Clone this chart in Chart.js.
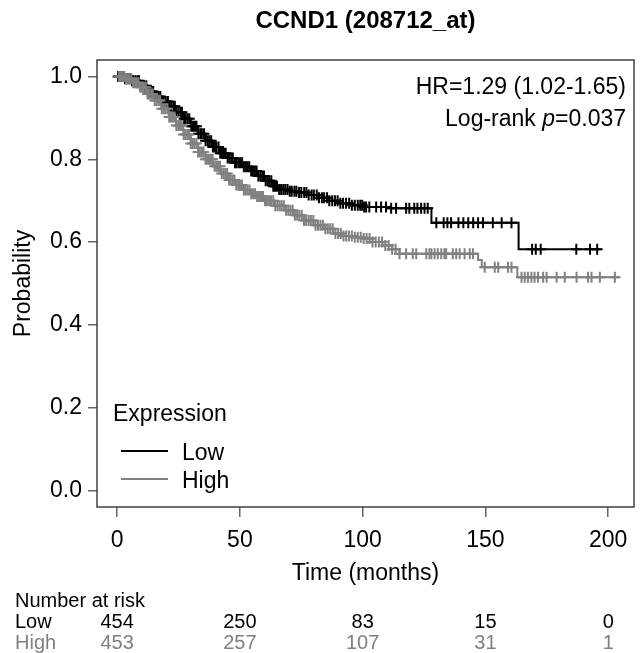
<!DOCTYPE html>
<html>
<head>
<meta charset="utf-8">
<script src="https://cdn.jsdelivr.net/npm/chart.js@4.4.1/dist/chart.umd.min.js"></script>
<style>
  html, body { margin:0; padding:0; background:#fff; }
  #wrap { width:642px; height:653px; }
</style>
</head>
<body>
<div id="wrap"><canvas id="km" width="642" height="653"></canvas></div>
<script>
// Kaplan-Meier steps: [months, probability]
const lowSteps = [
  [0,1.0],[3,0.995],[6,0.99],[9,0.978],[12,0.964],[15,0.952],[18,0.94],[21,0.928],
  [24,0.914],[27,0.898],[30,0.88],[33,0.862],[36,0.845],[39,0.83],[42,0.815],
  [45,0.803],[48,0.792],[51,0.782],[54,0.772],[57,0.76],[60,0.748],[63,0.735],
  [66,0.727],[70,0.723],[74,0.72],[78,0.714],[82,0.707],[86,0.7],[90,0.694],
  [95,0.689],[100,0.685],[110,0.682],[128,0.647],[163.5,0.583],[197,0.583]
];
const highSteps = [
  [0,1.0],[3,0.995],[6,0.985],[9,0.974],[12,0.958],[15,0.942],[18,0.922],[21,0.902],
  [24,0.882],[27,0.86],[30,0.838],[33,0.818],[36,0.8],[39,0.783],[42,0.766],
  [45,0.75],[48,0.738],[51,0.726],[54,0.717],[57,0.71],[60,0.7],[64,0.688],
  [68,0.677],[72,0.665],[76,0.652],[80,0.641],[84,0.632],[88,0.621],[92,0.615],
  [96,0.612],[100,0.609],[104,0.6],[108,0.592],[112,0.583],[115,0.572],
  [147,0.557],[148.5,0.539],[163,0.515],[204.8,0.515]
];

// censoring times (months)
const lowCensor = [0.4,1.1,1.7,2.5,3.2,3.8,4.6,5.3,6.1,6.6,7.4,8.2,8.9,9.5,10.4,11.0,11.9,12.5,
  13.2,14.0,14.7,15.5,16.1,16.9,17.6,18.4,19.0,19.8,20.7,21.3,22.0,22.9,23.5,24.2,25.0,25.8,
  26.4,27.3,27.9,28.7,29.4,30.2,30.9,31.7,32.3,33.1,33.9,34.5,35.4,36.0,36.8,37.5,38.3,39.0,
  39.8,40.4,41.3,42.0,42.7,43.5,44.2,45.0,45.7,46.5,47.1,48.0,48.6,49.4,50.1,50.9,51.6,52.4,
  53.1,53.8,54.6,55.3,56.1,56.8,57.5,58.3,59.1,59.8,60.5,61.3,62.0,62.8,63.6,64.3,65.1,66.0,
  66.8,67.7,68.5,69.4,70.3,71.1,72.2,73.0,74.1,75.0,76.2,77.1,78.0,79.2,80.1,81.3,82.2,83.4,
  84.3,85.5,86.4,87.6,88.7,89.8,90.9,92.0,93.2,94.5,95.6,96.8,98.0,99.0,99.8,100.6,101.4,
  102.7,105.5,107.5,109.5,111.6,113.6,117.7,119,121,122.3,123.8,125.2,126.5,
  130,133,134.5,136,139,141,143,145,147,149,153,156.6,160.6,169,170.5,172.5,187,192.6,195.5];
const highCensor = [0.8,1.5,2.2,2.9,3.6,4.4,5.0,5.8,6.5,7.3,8.0,8.7,9.4,10.2,10.9,11.7,12.4,
  13.0,13.9,14.5,15.3,16.0,16.8,17.5,18.2,19.0,19.7,20.5,21.2,21.9,22.7,23.4,24.1,24.9,25.6,
  26.3,27.1,27.8,28.6,29.3,30.0,30.8,31.5,32.3,33.0,33.7,34.5,35.2,36.0,36.7,37.4,38.2,38.9,
  39.7,40.4,41.1,41.9,42.6,43.4,44.1,44.8,45.6,46.3,47.1,47.8,48.5,49.3,50.0,50.8,51.6,52.3,
  53.1,53.9,54.6,55.4,56.2,57.0,57.8,58.6,59.4,60.2,61.0,61.9,62.7,63.6,64.4,65.3,66.2,67.0,
  67.9,68.8,69.7,70.6,71.5,72.4,73.3,74.2,75.2,76.1,77.0,78.0,78.9,79.9,80.8,81.8,82.8,83.8,
  84.8,85.8,86.8,87.8,88.9,90.0,91.1,92.2,93.3,94.4,95.6,96.8,98.0,99.2,100.4,101.6,102.8,
  104.0,105.3,106.6,107.9,109.2,110.6,112.0,113.4,115,117.7,120.4,121.8,125.9,127.2,128,129.3,
  130.6,132,133.3,134,136.7,138.1,139.5,141.5,143.6,144.9,149.7,153.8,155.2,159.2,160.6,164.7,
  166,167.3,168.7,170,171.4,173.5,174.9,179,182.3,187.1,191.8,193.2,196.6,202.7];

const xTicks = [0, 50, 100, 150, 200];
const yTicks = [0, 0.2, 0.4, 0.6, 0.8, 1.0];
const riskTimes = [0, 50, 100, 150, 200];
const riskLow = [454, 250, 83, 15, 0];
const riskHigh = [453, 257, 107, 31, 1];

const LOW_COL = "#000000";
const HIGH_COL = "#808080";
const FONT = "'Liberation Sans', Arial, sans-serif";

function survAt(steps, t){
  let s = steps[0][1];
  for (const [tt, v] of steps){
    if (tt <= t) s = v; else break;
  }
  return s;
}

const toPts = steps => steps.map(([x,y]) => ({x, y}));
const censorPts = (times, steps) => times.map(t => ({x: t, y: survAt(steps, t)}));

const overlay = {
  id: "overlay",
  afterDraw(chart){
    const ctx = chart.ctx;
    const a = chart.chartArea;
    const xs = chart.scales.x;
    ctx.save();

    // box
    ctx.strokeStyle = "#404040";
    ctx.lineWidth = 1.5;
    ctx.strokeRect(a.left, a.top, a.right - a.left, a.bottom - a.top);

    // title
    ctx.fillStyle = "#000";
    ctx.textAlign = "center";
    ctx.textBaseline = "alphabetic";
    ctx.font = "bold 24px " + FONT;
    ctx.fillText("CCND1 (208712_at)", (a.left + a.right) / 2, 28);

    // HR text
    ctx.font = "23px " + FONT;
    ctx.textAlign = "right";
    ctx.fillText("HR=1.29 (1.02-1.65)", a.right - 8, 94);
    const tail = "=0.037";
    const tw = ctx.measureText(tail).width;
    ctx.fillText(tail, a.right - 8, 126);
    ctx.font = "italic 23px " + FONT;
    const pw = ctx.measureText("p").width;
    ctx.fillText("p", a.right - 8 - tw, 126);
    ctx.font = "23px " + FONT;
    ctx.fillText("Log-rank ", a.right - 8 - tw - pw, 126);

    // legend
    ctx.textAlign = "left";
    ctx.fillText("Expression", 113, 421);
    ctx.lineWidth = 2;
    ctx.strokeStyle = LOW_COL;
    ctx.beginPath(); ctx.moveTo(121, 451); ctx.lineTo(168, 451); ctx.stroke();
    ctx.strokeStyle = HIGH_COL;
    ctx.beginPath(); ctx.moveTo(121, 479); ctx.lineTo(168, 479); ctx.stroke();
    ctx.fillText("Low", 182, 460);
    ctx.fillText("High", 182, 488);

    // axis titles
    ctx.textAlign = "center";
    ctx.fillText("Time (months)", (a.left + a.right) / 2, 580);
    ctx.save();
    ctx.translate(30, (a.top + a.bottom) / 2);
    ctx.rotate(-Math.PI / 2);
    ctx.fillText("Probability", 0, 0);
    ctx.restore();

    // number at risk
    ctx.font = "20px " + FONT;
    ctx.textAlign = "left";
    ctx.fillStyle = "#000";
    ctx.fillText("Number at risk", 15, 607);
    ctx.fillText("Low", 15, 628);
    ctx.fillStyle = HIGH_COL;
    ctx.fillText("High", 15, 649);
    ctx.textAlign = "center";
    riskTimes.forEach((t, i) => {
      const px = xs.getPixelForValue(t);
      ctx.fillStyle = "#000";
      ctx.fillText(String(riskLow[i]), px, 628);
      ctx.fillStyle = HIGH_COL;
      ctx.fillText(String(riskHigh[i]), px, 649);
    });
    ctx.restore();
  }
};

new Chart(document.getElementById("km"), {
  type: "line",
  data: {
    datasets: [
      // index 0 is drawn on top: High over Low, as in the reference
      { label: "High censored", data: censorPts(highCensor, highSteps), showLine: false,
        pointStyle: "cross", pointRadius: 5.5, borderColor: HIGH_COL, borderWidth: 2 },
      { label: "High", data: toPts(highSteps), borderColor: HIGH_COL, borderWidth: 2,
        stepped: true, pointRadius: 0, fill: false },
      { label: "Low censored", data: censorPts(lowCensor, lowSteps), showLine: false,
        pointStyle: "cross", pointRadius: 5.5, borderColor: LOW_COL, borderWidth: 2 },
      { label: "Low", data: toPts(lowSteps), borderColor: LOW_COL, borderWidth: 2,
        stepped: true, pointRadius: 0, fill: false }
    ]
  },
  options: {
    responsive: false,
    animation: false,
    layout: { padding: { top: 60, right: 8, left: 0, bottom: 0 } },
    plugins: { legend: { display: false }, tooltip: { enabled: false } },
    scales: {
      x: {
        type: "linear", min: -8.2, max: 210.5,
        afterBuildTicks: s => { s.ticks = xTicks.map(v => ({value: v})); },
        afterFit: s => { s.height = 146; },
        grid: { drawOnChartArea: false, drawTicks: true, tickLength: 10, color: "#666", lineWidth: 1.5 },
        border: { display: false },
        ticks: { color: "#000", font: { family: FONT, size: 23 }, padding: 10, maxRotation: 0 }
      },
      y: {
        type: "linear", min: -0.04, max: 1.04,
        afterBuildTicks: s => { s.ticks = yTicks.map(v => ({value: v})); },
        afterFit: s => { s.width = 97; },
        grid: { drawOnChartArea: false, drawTicks: true, tickLength: 9, color: "#666", lineWidth: 1.5 },
        border: { display: false },
        ticks: { color: "#000", font: { family: FONT, size: 23 }, padding: 6,
          callback: v => v.toFixed(1) }
      }
    }
  },
  plugins: [overlay]
});
</script>
</body>
</html>
